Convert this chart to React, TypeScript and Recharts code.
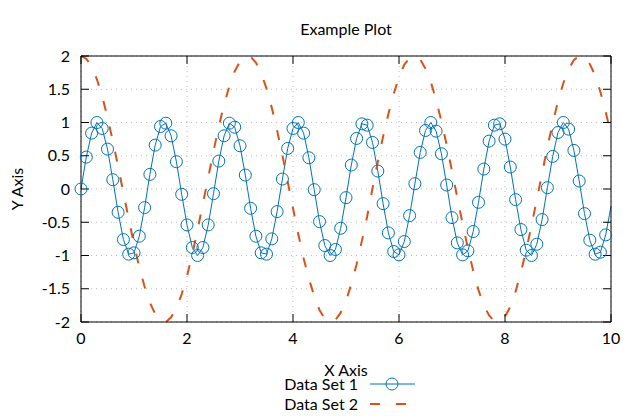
import React from 'react';
import { LineChart, Line, XAxis, YAxis, CartesianGrid, Legend } from 'recharts';

// x positions of the samples
const xValues = [
  0, 0.1, 0.2, 0.3, 0.4, 0.5, 0.6, 0.7, 0.8, 0.9,
  1, 1.1, 1.2, 1.3, 1.4, 1.5, 1.6, 1.7, 1.8, 1.9,
  2, 2.1, 2.2, 2.3, 2.4, 2.5, 2.6, 2.7, 2.8, 2.9,
  3, 3.1, 3.2, 3.3, 3.4, 3.5, 3.6, 3.7, 3.8, 3.9,
  4, 4.1, 4.2, 4.3, 4.4, 4.5, 4.6, 4.7, 4.8, 4.9,
  5, 5.1, 5.2, 5.3, 5.4, 5.5, 5.6, 5.7, 5.8, 5.9,
  6, 6.1, 6.2, 6.3, 6.4, 6.5, 6.6, 6.7, 6.8, 6.9,
  7, 7.1, 7.2, 7.3, 7.4, 7.5, 7.6, 7.7, 7.8, 7.9,
  8, 8.1, 8.2, 8.3, 8.4, 8.5, 8.6, 8.7, 8.8, 8.9,
  9, 9.1, 9.2, 9.3, 9.4, 9.5, 9.6, 9.7, 9.8, 9.9,
  10,
];

// Data Set 1 (blue, circles)
const dataSet1 = [
  0, 0.48, 0.84, 1.0, 0.91, 0.6, 0.14, -0.35, -0.76, -0.98,
  -0.96, -0.71, -0.28, 0.22, 0.66, 0.94, 0.99, 0.8, 0.41, -0.08,
  -0.54, -0.88, -1.0, -0.88, -0.54, -0.07, 0.42, 0.8, 0.99, 0.93,
  0.65, 0.21, -0.29, -0.71, -0.96, -0.98, -0.75, -0.34, 0.15, 0.61,
  0.91, 1.0, 0.84, 0.47, -0.01, -0.49, -0.85, -1.0, -0.91, -0.59,
  -0.13, 0.36, 0.76, 0.98, 0.96, 0.7, 0.27, -0.22, -0.66, -0.94,
  -0.99, -0.79, -0.4, 0.08, 0.55, 0.88, 1.0, 0.87, 0.53, 0.06,
  -0.43, -0.81, -0.99, -0.93, -0.64, -0.2, 0.3, 0.72, 0.96, 0.98,
  0.75, 0.33, -0.16, -0.61, -0.92, -1.0, -0.83, -0.46, 0.02, 0.49,
  0.85, 1.0, 0.9, 0.58, 0.12, -0.37, -0.77, -0.98, -0.95, -0.69,
  -0.26,
];

// Data Set 2 (orange, dashed)
const dataSet2 = [
  2.0, 1.96, 1.84, 1.65, 1.39, 1.08, 0.72, 0.34, -0.06, -0.45,
  -0.83, -1.18, -1.47, -1.71, -1.88, -1.98, -2.0, -1.93, -1.79, -1.58,
  -1.31, -0.98, -0.61, -0.22, 0.17, 0.57, 0.94, 1.27, 1.55, 1.77,
  1.92, 1.99, 1.99, 1.9, 1.74, 1.51, 1.22, 0.88, 0.51, 0.11,
  -0.29, -0.68, -1.04, -1.35, -1.61, -1.82, -1.95, -2.0, -1.97, -1.86,
  -1.68, -1.43, -1.13, -0.78, -0.41, 0.01, 0.41, 0.79, 1.13, 1.43,
  1.69, 1.87, 1.97, 2.0, 1.95, 1.81, 1.61, 1.34, 1.02, 0.66,
  0.27, -0.13, -0.52, -0.89, -1.23, -1.52, -1.75, -1.9, -1.99, -1.99,
  -1.92, -1.77, -1.54, -1.25, -0.92, -0.55, -0.16, 0.24, 0.63, 0.99,
  1.32, 1.59, 1.8, 1.94, 2.0, 1.98, 1.88, 1.71, 1.46, 1.16,
  0.82,
];

const xTicks = [0, 2, 4, 6, 8, 10];
const yTicks = [-2, -1.5, -1, -0.5, 0, 0.5, 1, 1.5, 2];

const BLUE = '#0072BD';
const ORANGE = '#D95319';
const FONT = 'Lato, "DejaVu Sans", sans-serif';

const chartData = xValues.map((x, i) => ({ x, s1: dataSet1[i], s2: dataSet2[i] }));

// gnuplot leaves the marker off the last sample at the border
const renderDot = (props: any) => {
  const { cx, cy, index } = props;
  if (index === xValues.length - 1) return <g key={`d-${index}`} />;
  return <circle key={`d-${index}`} cx={cx} cy={cy} r={6} fill="none" stroke={BLUE} strokeWidth={1} />;
};

// zero-height box so the legend doesn't shrink the plot area
const LegendContent = () => (
  <div style={{ position: 'relative', width: 640, height: 0, overflow: 'visible', fontFamily: FONT, fontSize: 16, color: '#000' }}>
    <div style={{ position: 'absolute', right: 282, top: 0, lineHeight: '20px', whiteSpace: 'nowrap' }}>Data Set 1</div>
    <svg style={{ position: 'absolute', left: 368, top: 0 }} width={50} height={20}>
      <line x1={2} y1={10} x2={47} y2={10} stroke={BLUE} strokeWidth={1} />
      <circle cx={24} cy={10} r={6} fill="none" stroke={BLUE} strokeWidth={1} />
    </svg>
    <div style={{ position: 'absolute', right: 282, top: 20, lineHeight: '20px', whiteSpace: 'nowrap' }}>Data Set 2</div>
    <svg style={{ position: 'absolute', left: 368, top: 20 }} width={50} height={20}>
      <line x1={2} y1={10} x2={47} y2={10} stroke={ORANGE} strokeWidth={2} strokeDasharray="10 16" />
    </svg>
  </div>
);

const noLabel = () => '';

export default function App() {
  return (
    <div style={{ position: 'absolute', left: 0, top: 0, width: 640, height: 420, background: '#fff', fontFamily: FONT }}>
      <LineChart width={640} height={420} data={chartData} margin={{ top: 0, right: 0, left: 0, bottom: 0 }}>
        <CartesianGrid stroke="#bbbbbb" strokeDasharray="1 4" />
        <XAxis
          dataKey="x"
          type="number"
          domain={[0, 10]}
          ticks={xTicks}
          height={98}
          tickSize={-8}
          tickMargin={19}
          stroke="#000"
          tick={{ fill: '#000', fontSize: 16 }}
        />
        <XAxis
          xAxisId="top"
          dataKey="x"
          type="number"
          orientation="top"
          domain={[0, 10]}
          ticks={xTicks}
          height={56}
          tickSize={-8}
          stroke="#000"
          tickFormatter={noLabel}
        />
        <YAxis
          type="number"
          domain={[-2, 2]}
          ticks={yTicks}
          width={81}
          tickSize={-8}
          tickMargin={19}
          stroke="#000"
          tick={{ fill: '#000', fontSize: 16 }}
        />
        <YAxis
          yAxisId="right"
          orientation="right"
          type="number"
          domain={[-2, 2]}
          ticks={yTicks}
          width={29}
          tickSize={-8}
          stroke="#000"
          tickFormatter={noLabel}
        />
        <Line
          dataKey="s1"
          name="Data Set 1"
          type="linear"
          stroke={BLUE}
          strokeWidth={1}
          dot={renderDot}
          activeDot={false}
          isAnimationActive={false}
        />
        <Line
          dataKey="s2"
          name="Data Set 2"
          type="linear"
          stroke={ORANGE}
          strokeWidth={2}
          strokeDasharray="10 16"
          dot={false}
          activeDot={false}
          isAnimationActive={false}
        />
        {/* hidden series so the mirror axes get scales */}
        <Line xAxisId="top" yAxisId="right" dataKey="s2" stroke="none" dot={false} activeDot={false} legendType="none" isAnimationActive={false} />
        <Legend content={<LegendContent />} wrapperStyle={{ position: 'absolute', left: 0, top: 374, width: 640, height: 0 }} />
      </LineChart>
      <svg width={640} height={420} style={{ position: 'absolute', left: 0, top: 0, pointerEvents: 'none' }}>
        <text x={346} y={28} textAnchor="middle" dominantBaseline="central" fontSize={16} fill="#000">Example Plot</text>
        <text x={346} y={369} textAnchor="middle" dominantBaseline="central" fontSize={16} fill="#000">X Axis</text>
        <text x={16} y={189} textAnchor="middle" dominantBaseline="central" fontSize={16} fill="#000" transform="rotate(-90 16 189)">Y Axis</text>
      </svg>
    </div>
  );
}
